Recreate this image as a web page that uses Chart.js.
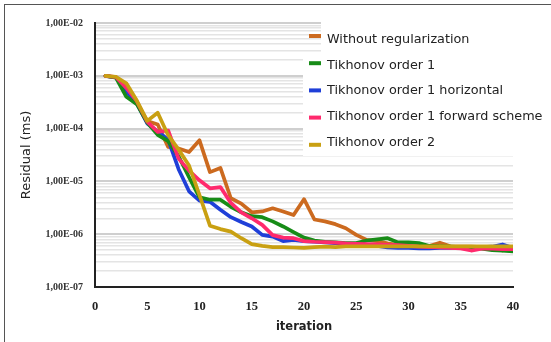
<!DOCTYPE html>
<html>
<head>
<meta charset="utf-8">
<title>Residual vs iteration</title>
<script src="https://cdn.jsdelivr.net/npm/chart.js@4.4.1/dist/chart.umd.min.js"></script>
<style>
  html, body { margin: 0; padding: 0; background: #fff; }
  #wrap { position: relative; width: 551px; height: 342px; overflow: hidden; }
  #frame {
    position: absolute; left: 4px; top: 4px; width: 600px; height: 400px;
    border-top: 1px solid #555; border-left: 1px solid #555; pointer-events: none;
  }
  canvas { position: absolute; left: 0; top: 0; }
</style>
</head>
<body>
<div id="wrap">
  <canvas id="residualChart" width="551" height="342"></canvas>
  <div id="frame"></div>
</div>
<script>
// iterations (x categories)
const iterations = [1, 2, 3, 4, 5, 6, 7, 8, 9, 10, 11, 12, 13, 14, 15, 16, 17, 18, 19, 20,
                    21, 22, 23, 24, 25, 26, 27, 28, 29, 30, 31, 32, 33, 34, 35, 36, 37, 38, 39, 40];

// residuals per method
const withoutReg = [1e-3, 9.3e-4, 5.5e-4, 3.0e-4, 1.4e-4, 1.2e-4, 4.5e-5, 4.2e-5, 3.6e-5, 6.0e-5,
                    1.5e-5, 1.8e-5, 4.8e-6, 3.8e-6, 2.6e-6, 2.7e-6, 3.1e-6, 2.7e-6, 2.3e-6, 4.6e-6,
                    1.9e-6, 1.75e-6, 1.55e-6, 1.3e-6, 9.7e-7, 7.8e-7, 7.4e-7, 6.7e-7, 6.2e-7, 5.8e-7,
                    5.8e-7, 6.0e-7, 6.9e-7, 5.9e-7, 5.8e-7, 5.8e-7, 5.7e-7, 5.6e-7, 4.9e-7, 5.6e-7];
const tikhonov1 = [1e-3, 9.2e-4, 4.0e-4, 2.9e-4, 1.3e-4, 7.6e-5, 5.8e-5, 3.0e-5, 1.2e-5, 5.0e-6,
                   4.5e-6, 4.5e-6, 3.3e-6, 2.6e-6, 2.2e-6, 2.1e-6, 1.75e-6, 1.4e-6, 1.1e-6, 8.6e-7,
                   7.6e-7, 7.2e-7, 7.0e-7, 6.8e-7, 6.8e-7, 7.6e-7, 8.0e-7, 8.4e-7, 7.0e-7, 7.0e-7,
                   6.8e-7, 6.0e-7, 5.9e-7, 5.8e-7, 5.7e-7, 5.6e-7, 5.3e-7, 5.0e-7, 4.9e-7, 4.7e-7];
const tikhonov1Horiz = [1e-3, 9.3e-4, 5.0e-4, 3.0e-4, 1.25e-4, 8.7e-5, 6.2e-5, 1.7e-5, 6.5e-6, 4.3e-6,
                        4.1e-6, 2.9e-6, 2.1e-6, 1.7e-6, 1.4e-6, 9.7e-7, 9.0e-7, 7.4e-7, 7.8e-7, 7.4e-7,
                        7.2e-7, 7.0e-7, 6.8e-7, 6.6e-7, 6.5e-7, 6.3e-7, 6.0e-7, 5.6e-7, 5.5e-7, 5.5e-7,
                        5.4e-7, 5.4e-7, 5.5e-7, 5.5e-7, 5.6e-7, 5.6e-7, 5.7e-7, 5.8e-7, 6.4e-7, 5.5e-7];
const tikhonov1Fwd = [1e-3, 9.5e-4, 5.9e-4, 3.3e-4, 1.35e-4, 8.7e-5, 9.2e-5, 2.7e-5, 1.6e-5, 1.05e-5,
                      7.4e-6, 7.8e-6, 3.9e-6, 2.6e-6, 2.0e-6, 1.5e-6, 9.6e-7, 8.6e-7, 8.4e-7, 7.4e-7,
                      7.2e-7, 7.1e-7, 6.9e-7, 6.7e-7, 6.6e-7, 6.5e-7, 6.4e-7, 6.3e-7, 6.2e-7, 6.0e-7,
                      5.8e-7, 5.7e-7, 5.6e-7, 5.5e-7, 5.4e-7, 4.9e-7, 5.3e-7, 5.3e-7, 5.2e-7, 5.2e-7];
const tikhonov2 = [1e-3, 9.6e-4, 7.2e-4, 3.4e-4, 1.4e-4, 2.0e-4, 7.5e-5, 4.0e-5, 2.0e-5, 5.5e-6,
                   1.45e-6, 1.25e-6, 1.12e-6, 8.4e-7, 6.5e-7, 6.0e-7, 5.7e-7, 5.7e-7, 5.6e-7, 5.5e-7,
                   5.7e-7, 5.8e-7, 5.7e-7, 5.9e-7, 5.9e-7, 5.9e-7, 5.9e-7, 5.9e-7, 5.9e-7, 5.9e-7,
                   5.9e-7, 5.9e-7, 5.9e-7, 5.9e-7, 5.9e-7, 5.9e-7, 5.9e-7, 5.9e-7, 5.9e-7, 5.9e-7];

const seriesLabels = ['Without regularization', 'Tikhonov order 1', 'Tikhonov order 1 horizontal',
                      'Tikhonov order 1 forward scheme', 'Tikhonov order 2'];

// axis ticks
const xTickValues = [0, 5, 10, 15, 20, 25, 30, 35, 40];
const yTickValues = [1e-7, 1e-6, 1e-5, 1e-4, 1e-3, 1e-2];
const yTickLabels = ['1,00E-07', '1,00E-06', '1,00E-05', '1,00E-04', '1,00E-03', '1,00E-02'];

const toPoints = (values) => iterations.map((it, i) => ({ x: it, y: values[i] }));

// legend drawn inside the plot, on a white card
const insetLegend = {
    id: 'insetLegend',
    afterDraw(chart) {
        const ctx = chart.ctx;
        ctx.save();
        ctx.fillStyle = '#fff';
        ctx.fillRect(321, 22, 230, 34);
        ctx.fillRect(303, 56, 248, 100);

        ctx.font = '12.8px "DejaVu Sans"';
        ctx.textBaseline = 'middle';
        ctx.fillStyle = '#222';
        chart.data.datasets.forEach((ds, i) => {
            const swatchY = 36 + i * 27.2;
            ctx.strokeStyle = ds.borderColor;
            ctx.lineWidth = 4;
            ctx.beginPath();
            ctx.moveTo(309, swatchY);
            ctx.lineTo(321, swatchY);
            ctx.stroke();
            ctx.fillText(ds.label, 327, 39.5 + i * 25.75);
        });
        ctx.restore();
    }
};

const colors = ['#cc6a1f', '#178c17', '#1f3fd8', '#ff2a6d', '#c9a012'];
const drawOrder = [4, 2, 3, 1, 0];

new Chart(document.getElementById('residualChart'), {
    type: 'line',
    data: {
        datasets: [withoutReg, tikhonov1, tikhonov1Horiz, tikhonov1Fwd, tikhonov2].map((values, i) => ({
            label: seriesLabels[i],
            data: toPoints(values),
            borderColor: colors[i],
            backgroundColor: colors[i],
            order: drawOrder[i]
        }))
    },
    options: {
        responsive: false,
        devicePixelRatio: 1,
        animation: false,
        layout: { padding: { left: 19, top: 23, right: 38, bottom: 0 } },
        plugins: {
            legend: { display: false },
            tooltip: { enabled: false }
        },
        elements: {
            point: { radius: 0 },
            line: { borderWidth: 3.7, tension: 0, borderCapStyle: 'round', borderJoinStyle: 'round' }
        },
        scales: {
            x: {
                type: 'linear',
                min: 0,
                max: 40,
                afterFit: (scale) => { scale.height = 55; },
                afterBuildTicks: (scale) => { scale.ticks = xTickValues.map(v => ({ value: v })); },
                grid: { display: false, drawTicks: false },
                border: { display: true, color: '#222', width: 2 },
                ticks: {
                    padding: 12,
                    color: '#222',
                    maxRotation: 0,
                    font: { family: '"Liberation Serif"', size: 12.5, weight: 'bold' }
                },
                title: {
                    display: true,
                    text: 'iteration',
                    color: '#222',
                    padding: { top: 0, bottom: 8 },
                    font: { family: '"DejaVu Sans"', size: 11.5, weight: 'bold' }
                }
            },
            y: {
                type: 'logarithmic',
                min: 1e-7,
                max: 1e-2,
                afterFit: (scale) => { scale.width = 76; },
                afterBuildTicks: (scale) => {
                    const ticks = [];
                    yTickValues.forEach((decade, d) => {
                        const last = d === yTickValues.length - 1 ? 1 : 9;
                        for (let k = 1; k <= last; k++) {
                            ticks.push({ value: k * decade, major: k === 1 });
                        }
                    });
                    scale.ticks = ticks;
                },
                grid: {
                    drawTicks: false,
                    color: (ctx) => (ctx.tick && ctx.tick.major ? '#cfcfcf' : '#e4e4e4'),
                    lineWidth: (ctx) => (ctx.tick && ctx.tick.major ? 2 : 1.5)
                },
                border: { display: true, color: '#222', width: 2 },
                ticks: {
                    autoSkip: false,
                    padding: 12,
                    color: '#333',
                    font: { family: '"Liberation Serif"', size: 10, weight: 'bold' },
                    callback: (value) => {
                        const idx = yTickValues.findIndex(v => Math.abs(Math.log10(v) - Math.log10(value)) < 1e-6);
                        return idx >= 0 ? yTickLabels[idx] : '';
                    }
                },
                title: {
                    display: true,
                    text: 'Residual (ms)',
                    color: '#222',
                    padding: { top: 0, bottom: 0 },
                    font: { family: '"DejaVu Sans"', size: 13 }
                }
            }
        }
    },
    plugins: [insetLegend]
});
</script>
</body>
</html>
